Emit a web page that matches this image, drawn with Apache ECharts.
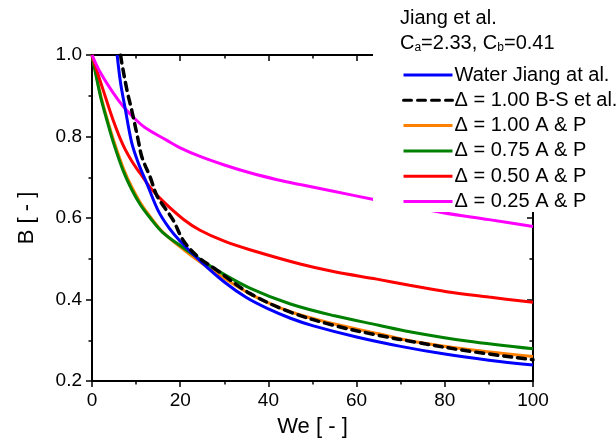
<!DOCTYPE html>
<html>
<head>
<meta charset="utf-8">
<script src="https://cdn.jsdelivr.net/npm/echarts@6/dist/echarts.min.js"></script>
<style>
html,body{margin:0;padding:0;background:#fff;}
#chart{width:616px;height:443px;}
</style>
</head>
<body>
<div id="chart"></div>
<script>
// ---- data ----
const xTicks = [0, 20, 40, 60, 80, 100];
const yTicks = [0.2, 0.4, 0.6, 0.8, 1.0];

const seriesNames = ['Water Jiang at al.', 'Δ = 1.00 B-S et al.', 'Δ = 1.00 A & P', 'Δ = 0.75 A & P', 'Δ = 0.50 A & P', 'Δ = 0.25 A & P'];

const weWater = [5.7, 6.5, 7.5, 9, 10.5, 12.5, 15, 17.5, 20, 25, 30, 35, 40, 45, 50, 60, 70, 80, 90, 100];
const bWater  = [1.0, 0.93, 0.87, 0.785, 0.735, 0.683, 0.618, 0.575, 0.543, 0.49, 0.443, 0.405, 0.377, 0.354, 0.336, 0.308, 0.285, 0.266, 0.251, 0.239];

const weBS = [6.5, 6.7, 8, 9, 10.5, 11.3, 13.2, 14.7, 16.5, 18.4, 20.7, 24, 28.3, 35.8, 45, 55, 65, 74, 85, 100];
const bBS  = [1.0, 0.984, 0.91, 0.865, 0.79, 0.75, 0.70, 0.655, 0.625, 0.595, 0.545, 0.505, 0.472, 0.415, 0.369, 0.336, 0.312, 0.294, 0.274, 0.252];

const weAP100 = [0, 1, 2, 3.3, 5, 7.1, 9, 11, 13.2, 16, 20.7, 25, 28.3, 35.8, 45, 55, 65, 72, 85, 100];
const bAP100  = [1.0, 0.948, 0.90, 0.848, 0.787, 0.722, 0.676, 0.637, 0.603, 0.566, 0.523, 0.488, 0.464, 0.414, 0.370, 0.340, 0.316, 0.299, 0.278, 0.260];

const weAP075 = [0, 1, 2, 3.3, 5, 7.1, 9, 11, 13.2, 16, 20.7, 25, 28.3, 35.8, 45, 55, 65, 72, 85, 100];
const bAP075  = [1.0, 0.945, 0.895, 0.843, 0.78, 0.715, 0.67, 0.632, 0.600, 0.565, 0.527, 0.495, 0.472, 0.428, 0.389, 0.360, 0.337, 0.321, 0.298, 0.279];

const weAP050 = [0, 1, 2.5, 4.8, 7, 9, 10.9, 13.2, 16.2, 20.7, 24.5, 30, 35.8, 47.2, 55, 64.6, 72, 80.4, 90, 100];
const bAP050  = [1.0, 0.965, 0.915, 0.84, 0.78, 0.74, 0.71, 0.675, 0.640, 0.597, 0.570, 0.543, 0.522, 0.487, 0.468, 0.450, 0.435, 0.419, 0.406, 0.393];

const weAP025 = [0, 2, 4.8, 7, 9.3, 12, 16.9, 20, 24.5, 30, 35.8, 42, 47.2, 55, 63.6, 70, 79.6, 90, 100];
const bAP025  = [1.0, 0.955, 0.907, 0.875, 0.848, 0.822, 0.791, 0.772, 0.751, 0.73, 0.711, 0.694, 0.682, 0.665, 0.646, 0.632, 0.613, 0.596, 0.579];

const colors = ['#0000FF', '#000000', '#FF8000', '#008000', '#FF0000', '#FF00FF'];

function zip(a, b) { return a.map((v, i) => [v, b[i]]); }

const chart = echarts.init(document.getElementById('chart'), null, {renderer: 'canvas'});
const FONT = '"Liberation Sans", Arial, sans-serif';

function mkSeries(name, we, b, color, z, dashed) {
  return {
    name: name, type: 'line', xAxisIndex: 0, yAxisIndex: 0,
    data: zip(we, b), smooth: 0.35, symbol: 'none', showSymbol: false, z: z,
    lineStyle: dashed ? {color: color, width: 3.5, type: [8, 6], cap: 'round'} : {color: color, width: 3},
    itemStyle: {color: color},
    emphasis: {disabled: true}, animation: false
  };
}

const axisCommon = {
  axisLine: {show: true, onZero: false, lineStyle: {color: '#000', width: 2}},
  splitLine: {show: false},
  minorSplitLine: {show: false}
};

const option = {
  animation: false,
  grid: {left: 92, top: 55, width: 441, height: 326, containLabel: false},
  xAxis: [
    Object.assign({}, axisCommon, {
      type: 'value', position: 'bottom', min: 0, max: 100, interval: 20,
      axisTick: {show: true, inside: false, length: 6, lineStyle: {color: '#000', width: 1.5}},
      minorTick: {show: true, splitNumber: 2, length: 3.5, lineStyle: {color: '#000', width: 1.5}},
      axisLabel: {show: true, margin: 10, color: '#000', fontSize: 19, fontFamily: FONT,
        formatter: v => xTicks.includes(v) ? String(v) : ''},
      name: 'We [ - ]', nameLocation: 'middle', nameGap: 35,
      nameTextStyle: {color: '#000', fontSize: 22, fontFamily: FONT}
    }),
    Object.assign({}, axisCommon, {
      type: 'value', position: 'top', min: 0, max: 100, interval: 20,
      axisTick: {show: true, inside: true, length: 6, lineStyle: {color: '#000', width: 1.5}},
      minorTick: {show: true, splitNumber: 2, length: 3.5, lineStyle: {color: '#000', width: 1.5}},
      axisLabel: {show: false}
    })
  ],
  yAxis: [
    Object.assign({}, axisCommon, {
      type: 'value', position: 'left', min: 0.2, max: 1.0, interval: 0.2,
      axisTick: {show: true, inside: false, length: 6, lineStyle: {color: '#000', width: 1.5}},
      minorTick: {show: true, splitNumber: 2, length: 3.5, lineStyle: {color: '#000', width: 1.5}},
      axisLabel: {show: true, margin: 10, color: '#000', fontSize: 19, fontFamily: FONT,
        formatter: v => v.toFixed(1)},
      name: 'B [ - ]', nameLocation: 'middle', nameGap: 54, nameRotate: 90,
      nameTextStyle: {color: '#000', fontSize: 22, fontFamily: FONT}
    }),
    Object.assign({}, axisCommon, {
      type: 'value', position: 'right', min: 0.2, max: 1.0, interval: 0.2,
      axisTick: {show: true, inside: true, length: 6, lineStyle: {color: '#000', width: 1.5}},
      minorTick: {show: true, splitNumber: 2, length: 3.5, lineStyle: {color: '#000', width: 1.5}},
      axisLabel: {show: false}
    })
  ],
  legend: {
    show: true, orient: 'vertical', left: 397, top: 60, z: 110,
    itemWidth: 49, itemHeight: 14, itemGap: 5.3,
    data: seriesNames,
    itemStyle: {opacity: 0},
    lineStyle: {width: 3},
    textStyle: {color: '#000', fontSize: 20, fontFamily: FONT, lineHeight: 20, padding: [0, 0, 0, -3]},
    selectedMode: false
  },
  graphic: [
    {type: 'rect', z: 100, shape: {x: 373, y: 0, width: 243, height: 212}, style: {fill: '#fff'}, silent: true},
    {type: 'text', z: 120, left: 400, top: 8, style: {text: 'Jiang et al.', fill: '#000', fontSize: 20, fontFamily: FONT}},
    {type: 'text', z: 120, left: 400, top: 33, style: {
      text: 'C{sub|a}=2.33, C{sub|b}=0.41', fill: '#000', fontSize: 20, fontFamily: FONT,
      rich: {sub: {fontSize: 12, fontFamily: FONT, fill: '#000', verticalAlign: 'bottom', padding: [10, 0, 0, 0]}}
    }}
  ],
  series: [
    mkSeries(seriesNames[2], weAP100, bAP100, colors[2], 2, false),
    mkSeries(seriesNames[3], weAP075, bAP075, colors[3], 3, false),
    mkSeries(seriesNames[4], weAP050, bAP050, colors[4], 4, false),
    mkSeries(seriesNames[5], weAP025, bAP025, colors[5], 5, false),
    mkSeries(seriesNames[0], weWater, bWater, colors[0], 6, false),
    mkSeries(seriesNames[1], weBS, bBS, colors[1], 7, true)
  ]
};
chart.setOption(option);
</script>
</body>
</html>
